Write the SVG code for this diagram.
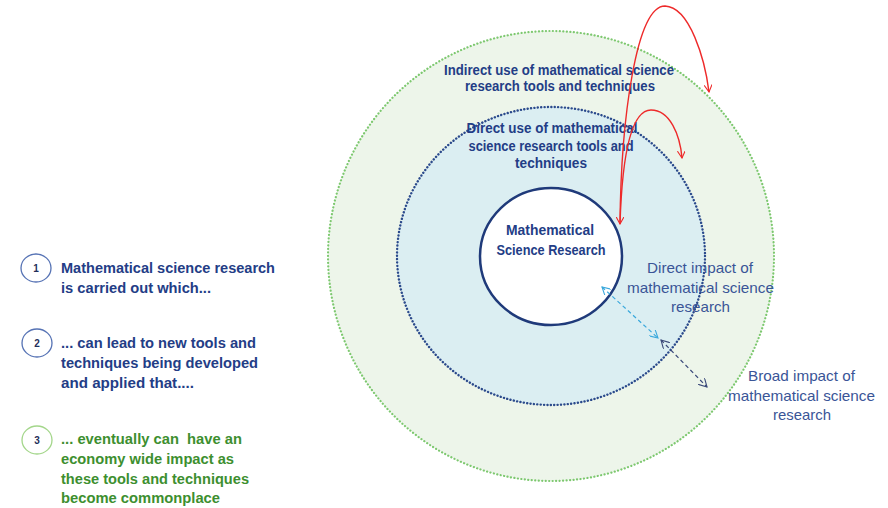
<svg xmlns="http://www.w3.org/2000/svg" width="888" height="508" viewBox="0 0 888 508">
<style>
.b{font-family:"Liberation Sans",Arial,sans-serif;font-weight:bold;fill:#233d86;font-size:14.5px}
.n{font-family:"Liberation Sans",Arial,sans-serif;fill:#3a5597;font-size:15px}
.g{fill:#3d8f2f}
.num{font-family:"Liberation Sans",Arial,sans-serif;font-weight:bold;font-size:10px;fill:#1f2f5a}
.red{fill:none;stroke:#ee2a2a;stroke-width:1.4}
</style>
<defs>
<marker id="ar" viewBox="0 0 10 10" refX="9" refY="5" markerWidth="8" markerHeight="8" orient="auto-start-reverse" markerUnits="userSpaceOnUse">
<path d="M0,0 L9,5 L0,10" fill="none" stroke="#ee2a2a" stroke-width="1.4"/>
</marker>
<marker id="ac" viewBox="0 0 10 10" refX="9" refY="5" markerWidth="9" markerHeight="9" orient="auto-start-reverse" markerUnits="userSpaceOnUse">
<path d="M0,0 L9,5 L0,10" fill="none" stroke="#3aa8dc" stroke-width="1.2"/>
</marker>
<marker id="an" viewBox="0 0 10 10" refX="9" refY="5" markerWidth="9" markerHeight="9" orient="auto-start-reverse" markerUnits="userSpaceOnUse">
<path d="M0,0 L9,5 L0,10" fill="none" stroke="#3b4a7a" stroke-width="1.2"/>
</marker>
</defs>
<rect width="888" height="508" fill="#fff"/>
<g id="outer">
<ellipse cx="551" cy="256" rx="223" ry="225" fill="#edf5ea" stroke="#7dc86f" stroke-width="2.2" stroke-dasharray="0.1 3.4" stroke-linecap="round"/>
<text class="b" text-anchor="middle"><tspan x="559" y="75" textLength="230" lengthAdjust="spacingAndGlyphs">Indirect use of mathematical science</tspan><tspan x="560" y="91" textLength="190" lengthAdjust="spacingAndGlyphs">research tools and techniques</tspan></text>
</g>
<g id="middle">
<ellipse cx="551" cy="256" rx="154" ry="149" fill="#dbeef2" stroke="#2b4a8c" stroke-width="2.4" stroke-dasharray="0.1 3.3" stroke-linecap="round"/>
<text class="b" text-anchor="middle"><tspan x="552" y="133" textLength="171" lengthAdjust="spacingAndGlyphs">Direct use of mathematical</tspan><tspan x="551" y="151" textLength="165" lengthAdjust="spacingAndGlyphs">science research tools and</tspan><tspan x="551" y="168" textLength="72" lengthAdjust="spacingAndGlyphs">techniques</tspan></text>
</g>
<g id="inner">
<ellipse cx="551" cy="256.5" rx="71" ry="68.5" fill="#fff" stroke="#1f3a7a" stroke-width="2.5"/>
<text class="b" text-anchor="middle"><tspan x="550" y="235" textLength="88" lengthAdjust="spacingAndGlyphs">Mathematical</tspan><tspan x="551" y="255" textLength="109" lengthAdjust="spacingAndGlyphs">Science Research</tspan></text>
</g>
<g id="direct-impact">
<text class="n" text-anchor="middle"><tspan x="700" y="273" textLength="106" lengthAdjust="spacingAndGlyphs">Direct impact of</tspan><tspan x="700.5" y="293" textLength="147" lengthAdjust="spacingAndGlyphs">mathematical science</tspan><tspan x="700.5" y="312" textLength="59" lengthAdjust="spacingAndGlyphs">research</tspan></text>
</g>
<g id="broad-impact">
<text class="n" text-anchor="middle"><tspan x="801.5" y="381" textLength="107" lengthAdjust="spacingAndGlyphs">Broad impact of</tspan><tspan x="801.5" y="401" textLength="147" lengthAdjust="spacingAndGlyphs">mathematical science</tspan><tspan x="802" y="420" textLength="58" lengthAdjust="spacingAndGlyphs">research</tspan></text>
</g>
<g id="step1">
<ellipse cx="36" cy="268" rx="15" ry="14" fill="#fff" stroke="#5572b4" stroke-width="1.3"/>
<text class="num" x="36" y="271.5" text-anchor="middle">1</text>
<text class="b" font-size="15.5"><tspan x="61" y="273" textLength="214" lengthAdjust="spacingAndGlyphs">Mathematical science research</tspan><tspan x="61" y="293" textLength="150" lengthAdjust="spacingAndGlyphs">is carried out which...</tspan></text>
</g>
<g id="step2">
<ellipse cx="37" cy="343" rx="15" ry="14" fill="#fff" stroke="#5572b4" stroke-width="1.3"/>
<text class="num" x="37" y="346.5" text-anchor="middle">2</text>
<text class="b" font-size="15.5"><tspan x="61" y="348" textLength="195" lengthAdjust="spacingAndGlyphs">... can lead to new tools and</tspan><tspan x="61" y="368" textLength="197" lengthAdjust="spacingAndGlyphs">techniques being developed</tspan><tspan x="61" y="388" textLength="133" lengthAdjust="spacingAndGlyphs">and applied that....</tspan></text>
</g>
<g id="step3">
<ellipse cx="37" cy="440" rx="15" ry="14" fill="#fff" stroke="#a3d68a" stroke-width="1.3"/>
<text class="num" x="37" y="443.5" text-anchor="middle">3</text>
<text class="b g" font-size="15.5" xml:space="preserve"><tspan x="61" y="444" textLength="181" lengthAdjust="spacingAndGlyphs">... eventually can  have an</tspan><tspan x="61" y="464" textLength="173" lengthAdjust="spacingAndGlyphs">economy wide impact as</tspan><tspan x="61" y="484" textLength="188" lengthAdjust="spacingAndGlyphs">these tools and techniques</tspan><tspan x="61" y="503" textLength="159" lengthAdjust="spacingAndGlyphs">become commonplace</tspan></text>
</g>
<g id="connectors">
<path class="red" d="M620,224 C621,120 636,6 665,6 C690,7 705,60 709,92" marker-start="url(#ar)" marker-end="url(#ar)"/>
<path class="red" d="M620,224 C622,160 630,110 651,110 C670,110 680,135 682,158" marker-end="url(#ar)"/>
<line x1="602" y1="287" x2="658" y2="338" stroke="#3aa8dc" stroke-width="1.2" stroke-dasharray="4 3" marker-start="url(#ac)" marker-end="url(#ac)"/>
<line x1="661" y1="340" x2="707" y2="387" stroke="#3b4a7a" stroke-width="1.2" stroke-dasharray="4 3" marker-start="url(#an)" marker-end="url(#an)"/>
</g>
</svg>
